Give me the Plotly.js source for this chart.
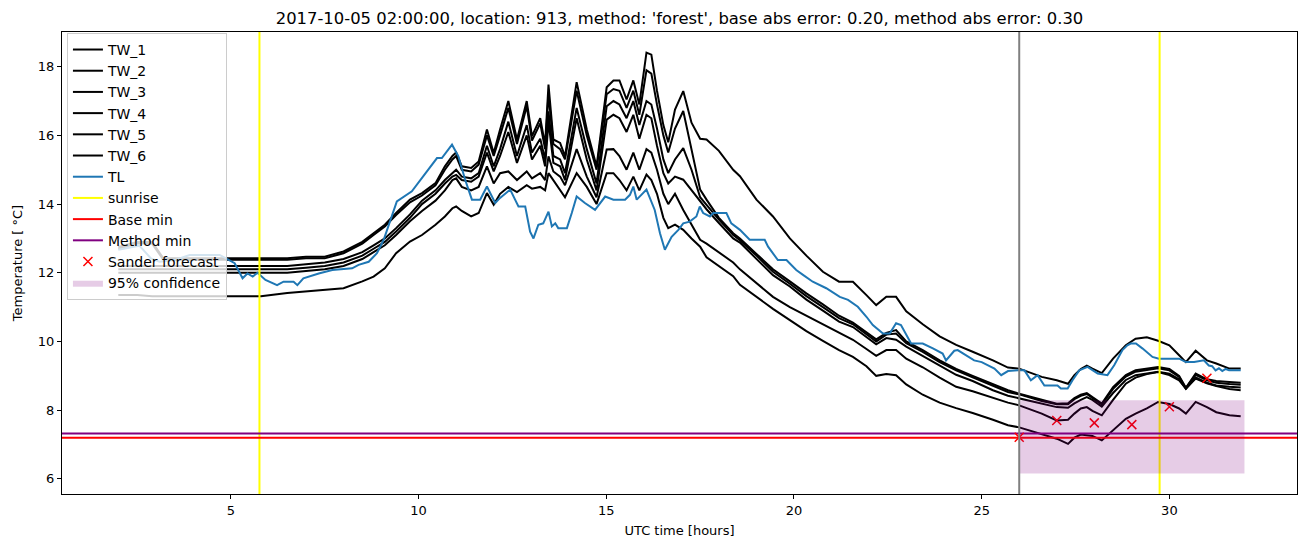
<!DOCTYPE html>
<html><head><meta charset="utf-8">
<script src="https://cdn.plot.ly/plotly-3.0.1.min.js"></script>
<style>body{margin:0;background:#fff}</style>
</head><body><div id="chart" style="width:1311px;height:547px"></div>
<script>
const tlHours = [2.0,2.56,2.87,3.1,3.5,3.9,4.7,4.96,5.1,5.31,5.44,5.58,5.71,5.92,6.23,6.4,6.67,6.77,6.93,7.34,7.7,8.23,8.4,8.67,8.89,9.07,9.25,9.42,9.82,10.49,10.62,10.76,10.89,11.06,11.24,11.42,11.64,11.82,12.04,12.17,12.44,12.57,12.66,12.84,12.97,13.06,13.19,13.32,13.46,13.55,13.64,13.72,13.95,14.08,14.21,14.43,14.7,14.97,15.19,15.5,15.63,15.72,15.81,16.07,16.29,16.43,16.56,16.74,16.92,17.05,17.22,17.4,17.49,17.58,17.76,17.85,18.2,18.33,18.56,18.82,19.22,19.31,19.57,19.8,20.06,20.24,20.5,20.86,21.22,21.44,21.7,21.93,22.1,22.37,22.55,22.72,22.85,23.12,23.43,23.7,23.96,24.05,24.27,24.36,24.59,24.8,25.0,25.34,25.52,25.7,25.96,26.14,26.31,26.49,26.67,27.02,27.11,27.29,27.42,27.6,27.82,27.95,28.09,28.35,28.53,28.75,28.88,28.97,29.11,29.28,29.55,29.72,30.26,30.44,30.66,30.92,31.05,31.14,31.23,31.32,31.41,31.5,31.59,31.9];
const tlValues = [12.67,12.79,12.42,12.32,12.37,12.52,12.52,12.37,12.28,11.84,11.98,11.89,12.0,11.79,11.64,11.74,11.74,11.64,11.84,11.98,12.08,12.13,12.23,12.32,12.57,12.96,13.54,14.08,14.37,15.34,15.34,15.54,15.73,15.39,14.71,14.13,14.13,14.51,14.03,14.18,14.42,14.13,13.93,13.93,13.2,13.0,13.4,13.44,13.78,13.35,13.44,13.3,13.3,13.74,14.22,14.03,13.83,14.22,14.13,14.13,14.27,14.51,14.13,14.42,13.83,13.15,12.67,13.05,13.25,13.44,13.49,13.64,13.93,13.74,13.64,13.74,13.74,13.44,13.25,12.96,12.96,12.76,12.37,12.37,12.08,11.94,11.74,11.55,11.3,11.21,11.01,10.72,10.48,10.23,10.23,10.53,10.48,9.94,9.94,9.8,9.65,9.45,9.73,9.75,9.6,9.45,9.4,9.21,9.02,9.14,9.16,9.16,8.87,9.02,8.72,8.72,8.63,8.63,8.87,9.16,9.26,9.16,9.07,9.02,9.31,9.75,9.89,9.94,9.94,9.8,9.55,9.5,9.5,9.4,9.4,9.45,9.3,9.28,9.16,9.22,9.14,9.2,9.16,9.16];

const twHours = [2.0,2.5,2.9,3.2,4.0,5.0,5.8,6.5,7.0,7.5,8.0,8.5,8.8,9.1,9.4,9.77,10.09,10.45,10.7,10.9,11.0,11.15,11.4,11.6,11.82,12.0,12.17,12.39,12.62,12.88,13.02,13.24,13.37,13.46,13.59,13.77,13.9,14.21,14.48,14.74,15.01,15.19,15.35,15.54,15.72,15.88,16.07,16.2,16.35,16.52,16.65,16.83,17.05,17.27,17.5,17.67,18.0,18.38,18.56,19.0,19.44,19.89,20.33,20.77,21.2,21.57,21.93,22.19,22.46,22.72,22.99,23.43,23.88,24.32,24.76,25.3,25.7,26.0,26.6,27.0,27.3,27.47,27.64,27.8,27.95,28.2,28.5,28.84,29.1,29.4,29.7,30.0,30.26,30.44,30.7,31.0,31.25,31.6,31.9];
const tw1 = [12.75,12.9,12.9,12.42,12.42,12.42,12.42,12.42,12.47,12.47,12.62,12.9,13.15,13.4,13.74,14.13,14.32,14.61,15.1,15.4,15.5,15.1,15.05,15.24,16.17,15.49,16.17,17.0,15.88,17.0,15.98,16.5,15.73,17.48,15.88,15.78,15.39,17.55,16.17,15.1,17.4,17.6,17.6,17.05,17.6,16.9,18.41,18.35,17.3,16.3,15.8,16.75,17.29,16.37,
  15.9,15.88,15.55,15.0,14.81,14.13,13.64,13.0,12.5,12.03,11.74,11.74,11.35,11.06,11.3,11.3,10.88,10.5,10.15,9.9,9.7,9.45,9.24,9.21,8.97,8.87,8.77,9.02,9.2,9.3,9.21,9.08,9.5,9.89,10.08,10.12,10.02,9.89,9.6,9.4,9.73,9.45,9.36,9.21,9.21];
const tw2 = [12.7,12.85,12.85,12.38,12.38,12.38,12.38,12.38,12.42,12.42,12.57,12.85,13.1,13.35,13.68,14.05,14.25,14.55,15.0,15.3,15.4,15.0,14.95,15.15,16.0,15.4,16.0,16.8,15.75,16.85,15.85,16.35,15.6,17.2,15.75,15.6,15.3,17.3,16.0,15.0,17.2,17.35,17.3,16.8,17.3,16.6,17.9,17.8,16.9,16.0,15.5,16.2,16.71,15.6,
  14.42,14.13,13.6,13.15,13.0,12.55,12.1,11.75,11.4,11.08,10.75,10.55,10.25,10.06,10.25,10.33,10.0,9.75,9.45,9.2,9.0,8.75,8.58,8.48,8.3,8.19,8.2,8.35,8.45,8.5,8.38,8.19,8.67,9.02,9.16,9.22,9.26,9.2,9.0,8.65,9.07,8.9,8.85,8.82,8.8];
const tw3 = [12.2,12.2,12.18,12.18,12.18,12.18,12.18,12.2,12.25,12.3,12.4,12.6,12.8,13.0,13.3,13.7,14.1,14.4,14.7,14.9,15.0,14.8,14.75,14.9,15.7,15.1,15.6,16.4,15.4,16.3,15.5,15.9,15.3,16.7,15.4,15.3,14.9,16.8,15.6,14.6,16.85,17.0,16.9,16.5,17.0,16.3,17.0,16.9,16.2,15.3,14.9,15.3,15.63,15.0,
  14.2,13.98,13.55,13.1,12.95,12.5,12.03,11.68,11.32,11.0,10.68,10.5,10.2,10.0,10.2,10.23,9.95,9.7,9.4,9.16,8.96,8.7,8.53,8.46,8.27,8.17,8.17,8.32,8.42,8.47,8.35,8.16,8.62,8.98,9.12,9.18,9.22,9.16,8.97,8.64,9.03,8.87,8.8,8.76,8.74];
const tw4 = [12.1,12.1,12.08,12.08,12.08,12.08,12.08,12.1,12.15,12.2,12.3,12.5,12.7,12.9,13.2,13.6,14.0,14.3,14.6,14.8,14.85,14.7,14.65,14.8,15.5,14.95,15.4,16.1,15.2,16.0,15.3,15.7,15.1,16.4,15.2,15.1,14.7,16.5,15.3,14.4,16.46,16.6,16.5,16.1,16.6,15.9,16.6,16.5,15.7,14.9,14.6,14.8,14.71,14.4,
  14.07,13.85,13.45,13.0,12.88,12.42,11.93,11.6,11.22,10.9,10.58,10.42,10.12,9.92,10.1,10.05,9.85,9.58,9.3,9.03,8.85,8.58,8.42,8.34,8.18,8.09,8.07,8.2,8.3,8.38,8.3,8.1,8.5,8.88,9.02,9.08,9.12,9.06,8.9,8.62,8.95,8.8,8.72,8.68,8.66];
const tw5 = [12.0,12.0,11.99,11.99,11.99,11.99,11.99,12.0,12.05,12.1,12.2,12.4,12.6,12.8,13.1,13.5,13.8,14.1,14.4,14.7,14.75,14.5,14.4,14.5,15.1,14.6,14.9,14.95,14.7,14.95,14.75,14.9,14.7,15.39,14.95,14.8,14.55,15.6,14.8,14.2,15.59,15.6,15.4,15.0,15.5,15.0,15.6,15.5,15.0,14.3,14.0,14.3,13.83,13.4,
  12.96,12.85,12.6,12.3,12.1,11.7,11.3,11.0,10.75,10.5,10.25,10.05,9.78,9.58,9.75,9.75,9.5,9.25,8.95,8.68,8.55,8.35,8.22,8.14,7.9,7.7,7.72,7.9,8.05,8.09,7.98,7.85,8.3,8.77,8.95,9.05,9.11,9.02,8.87,8.63,8.92,8.78,8.7,8.62,8.58];
const tw6 = [11.35,11.35,11.32,11.32,11.32,11.32,11.32,11.41,11.45,11.5,11.55,11.75,11.89,12.13,12.57,12.91,13.1,13.4,13.64,13.88,13.93,13.8,13.64,13.74,14.32,13.98,14.3,14.5,14.35,14.55,14.45,14.5,14.4,14.9,14.7,14.42,14.2,14.9,14.5,14.0,14.9,14.9,14.7,14.4,14.8,14.4,14.86,14.7,14.3,13.6,13.3,13.4,13.25,13.0,
  12.76,12.45,12.2,11.9,11.65,11.3,10.95,10.62,10.3,10.02,9.75,9.55,9.28,9.0,9.05,9.02,8.75,8.45,8.22,8.06,7.92,7.72,7.56,7.5,7.3,7.17,7.02,7.2,7.29,7.27,7.25,7.12,7.41,7.75,7.9,8.05,8.24,8.18,8.05,7.9,8.24,8.09,7.94,7.85,7.82];

const sunriseHours = [5.76, 29.74];
const nowHour = 26.0;
const baseMin = 7.2;
const methodMin = 7.32;
const sanderHours = [26, 27, 28, 29, 30, 31];
const sanderValues = [7.21, 7.7, 7.63, 7.58, 8.1, 8.93];
const confStart = 26.0, confEnd = 32.0, confLow = 6.16, confHigh = 8.29;
const xRange = [0.5, 33.4];
const yRange = [5.56, 19.01];

const twSeries = [tw1, tw2, tw3, tw4, tw5, tw6];
const traces = [];
twSeries.forEach((vals, i) => {
  traces.push({x: twHours, y: vals, type: 'scatter', mode: 'lines', name: 'TW_' + (i+1),
    line: {color: 'black', width: 2}});
});
traces.push({x: tlHours, y: tlValues, type: 'scatter', mode: 'lines', name: 'TL', line: {color: '#1f77b4', width: 2}});
sunriseHours.forEach((h, i) => {
  traces.push({x: [h, h], y: yRange, type: 'scatter', mode: 'lines', name: 'sunrise', showlegend: i === 0,
    line: {color: 'yellow', width: 2}});
});
traces.push({x: xRange, y: [baseMin, baseMin], type: 'scatter', mode: 'lines', name: 'Base min', line: {color: 'red', width: 2}});
traces.push({x: xRange, y: [methodMin, methodMin], type: 'scatter', mode: 'lines', name: 'Method min', line: {color: 'purple', width: 2}});
traces.push({x: sanderHours, y: sanderValues, type: 'scatter', mode: 'markers', name: 'Sander forecast',
  marker: {symbol: 'x-thin', size: 9, color: 'red', line: {color: 'red', width: 1.5}}});
traces.push({x: [confStart, confEnd, confEnd, confStart, confStart], y: [confLow, confLow, confHigh, confHigh, confLow],
  type: 'scatter', mode: 'lines', fill: 'toself', fillcolor: 'rgba(128,0,128,0.2)', line: {width: 0}, name: '95% confidence'});

const layout = {
  width: 1311, height: 547,
  margin: {l: 62, r: 14, t: 32, b: 53},
  paper_bgcolor: 'white', plot_bgcolor: 'white',
  font: {family: 'DejaVu Sans', size: 13, color: 'black'},
  title: {text: "2017-10-05 02:00:00, location: 913, method: 'forest', base abs error: 0.20, method abs error: 0.30",
    font: {size: 16.4, family: 'DejaVu Sans', color: 'black'}, xref: 'paper', x: 0.5, xanchor: 'center', y: 0.966, yanchor: 'middle'},
  xaxis: {range: xRange, showgrid: false, zeroline: false, showline: true, mirror: true, linecolor: 'black', linewidth: 1,
    ticks: 'outside', ticklen: 4, tickcolor: 'black', tickvals: [5,10,15,20,25,30], tickfont: {size: 13},
    title: {text: 'UTC time [hours]', font: {size: 13}, standoff: 9}},
  yaxis: {range: yRange, showgrid: false, zeroline: false, showline: true, mirror: true, linecolor: 'black', linewidth: 1,
    ticks: 'outside', ticklen: 4, tickcolor: 'black', tickvals: [6,8,10,12,14,16,18], tickfont: {size: 13},
    title: {text: 'Temperature [ °C]', font: {size: 13}, standoff: 12}},
  shapes: [{type: 'line', xref: 'x', yref: 'paper', x0: nowHour, x1: nowHour, y0: 0, y1: 1, line: {color: 'grey', width: 2}}],
  legend: {x: 0.004, y: 0.998, xanchor: 'left', yanchor: 'top', bgcolor: 'rgba(255,255,255,0.8)', bordercolor: '#cccccc', borderwidth: 1,
    font: {size: 14}, tracegroupgap: 0, itemwidth: 30},
  showlegend: true
};
Plotly.newPlot('chart', traces, layout, {staticPlot: true});
</script></body></html>
